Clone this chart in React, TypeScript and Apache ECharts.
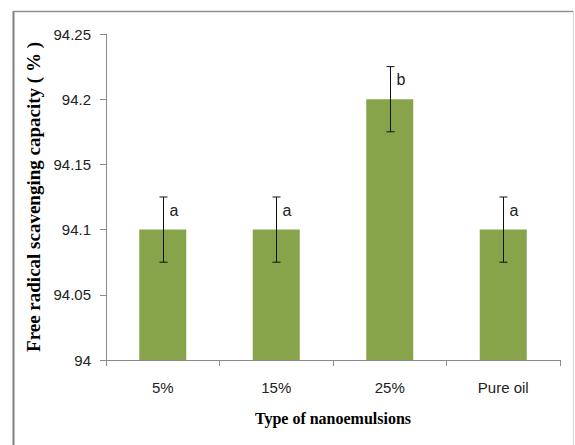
import React, { useEffect, useRef } from "react";
import * as echarts from "echarts";

const categories = ["5%", "15%", "25%", "Pure oil"];
const values = [94.1, 94.1, 94.2, 94.1];
const errors = [0.025, 0.025, 0.025, 0.025];
const letters = ["a", "a", "b", "a"];
const yTitle = "Free radical scavenging capacity ( % )";
const xTitle = "Type of nanoemulsions";

const tickFont = "'Liberation Sans Narrow', 'Liberation Sans', sans-serif";
const titleFont = "'Liberation Serif', 'Times New Roman', serif";

export default function App() {
  const ref = useRef<HTMLDivElement>(null);
  useEffect(() => {
    document.body.style.margin = "0";
    const chart = echarts.init(ref.current!, undefined, { renderer: "svg" });
    const axisColor = "#8a8a8a";
    chart.setOption({
      animation: false,
      backgroundColor: "#ffffff",
      grid: { left: 106, right: 15, top: 34, bottom: 85, containLabel: false },
      graphic: [
        { type: "line", shape: { x1: 13.5, y1: 11, x2: 13.5, y2: 445 }, style: { stroke: "#808080", lineWidth: 2 } },
        { type: "line", shape: { x1: 13, y1: 11.5, x2: 573, y2: 11.5 }, style: { stroke: "#909090", lineWidth: 1.5 } },
        { type: "line", shape: { x1: 573.5, y1: 11, x2: 573.5, y2: 445 }, style: { stroke: "#d8d8d8", lineWidth: 1 } },
      ],
      xAxis: {
        type: "category",
        data: categories,
        name: xTitle,
        nameLocation: "middle",
        nameGap: 50,
        nameTextStyle: { fontFamily: titleFont, fontWeight: "bold", fontSize: 16, color: "#000" },
        axisLine: { lineStyle: { color: axisColor, width: 1 } },
        axisTick: { show: true, length: 6, lineStyle: { color: axisColor } },
        axisLabel: { margin: 20, fontFamily: tickFont, fontSize: 15, color: "#222" },
      },
      yAxis: {
        type: "value",
        min: 94,
        max: 94.25,
        interval: 0.05,
        name: yTitle,
        nameLocation: "middle",
        nameGap: 59,
        nameRotate: 90,
        nameTextStyle: { fontFamily: titleFont, fontWeight: "bold", fontSize: 19, color: "#000" },
        axisLine: { show: true, lineStyle: { color: axisColor, width: 1 } },
        axisTick: { show: true, length: 6, lineStyle: { color: axisColor } },
        axisLabel: { margin: 15, fontFamily: tickFont, fontSize: 15, color: "#222" },
        splitLine: { show: false },
      },
      series: [
        {
          type: "bar",
          data: values,
          barWidth: 47,
          itemStyle: { color: "#87a44b" },
        },
        {
          type: "custom",
          data: values.map((v, i) => [i, v, errors[i]]),
          z: 5,
          renderItem: (params: any, api: any) => {
            const i = api.value(0);
            const v = api.value(1);
            const e = api.value(2);
            const top = api.coord([i, v + e]);
            const bot = api.coord([i, v - e]);
            const x = Math.round(top[0]) + 0.5;
            const cap = 4;
            const style = { stroke: "#111", lineWidth: 1 };
            return {
              type: "group",
              children: [
                { type: "line", shape: { x1: x, y1: top[1], x2: x, y2: bot[1] }, style },
                { type: "line", shape: { x1: x - cap, y1: top[1], x2: x + cap, y2: top[1] }, style },
                { type: "line", shape: { x1: x - cap, y1: bot[1], x2: x + cap, y2: bot[1] }, style },
                {
                  type: "text",
                  x: x + 6,
                  y: top[1] + 13,
                  style: {
                    text: letters[i],
                    fontFamily: tickFont,
                    fontSize: 16,
                    fill: "#222",
                    verticalAlign: "middle",
                    align: "left",
                  },
                },
              ],
            };
          },
        },
      ],
    });
    return () => chart.dispose();
  }, []);
  return <div ref={ref} style={{ width: 575, height: 445 }} />;
}
